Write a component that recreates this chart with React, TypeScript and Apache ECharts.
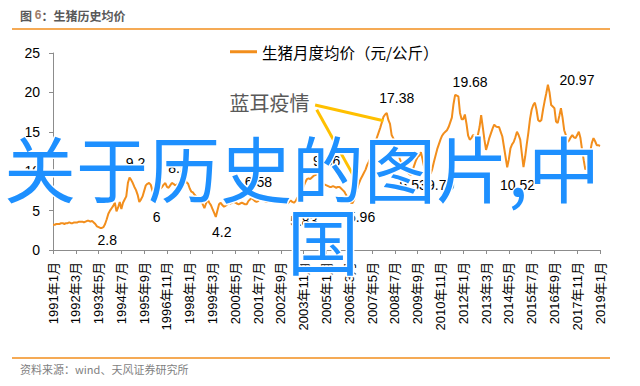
import React, { useEffect, useRef } from "react";
import * as echarts from "echarts";

// ---- data (monthly average live hog price, yuan/kg) ----
const years: number[] = [1991,1992,1993,1994,1995,1996,1997,1998,1999,2000,2001,2002,2003,2004,2005,2006,2007,2008,2009,2010,2011,2012,2013,2014,2015,2016,2017,2018,2019];
const p1991 = [3.2,3.2,3.3,3.3,3.3,3.4,3.4,3.3,3.4,3.4,3.5,3.4];
const p1992 = [3.4,3.5,3.5,3.5,3.6,3.6,3.6,3.5,3.6,3.7,3.7,3.6];
const p1993 = [3.7,3.5,3.3,3.0,2.9,2.8,2.8,2.9,3.3,3.9,4.6,5.0];
const p1994 = [5.3,5.6,6.0,4.9,5.4,6.1,5.2,6.0,6.4,6.8,8.5,9.2];
const p1995 = [8.9,8.5,8.0,7.6,7.0,6.1,6.4,6.8,7.5,8.2,8.4,8.5];
const p1996 = [8.3,7.6,6.9,6.0,6.9,7.5,7.8,8.0,8.3,8.5,8.0,7.9];
const p1997 = [8.2,8.5,8.4,8.2,8.3,8.4,8.6,8.9,8.8,8.9,8.6,8.4];
const p1998 = [7.8,7.4,7.3,7.0,6.8,6.6,6.3,6.1,5.8,5.3,5.9,6.4];
const p1999 = [6.0,5.7,5.2,4.7,4.2,5.0,5.8,6.0,5.7,5.5,5.6,5.8];
const p2000 = [6.0,5.9,6.0,6.1,6.0,5.9,5.8,5.9,6.0,5.9,5.8,5.8];
const p2001 = [6.2,6.4,6.6,6.4,6.2,6.1,6.2,6.4,6.58,6.4,6.2,6.1];
const p2002 = [6.1,6.2,6.3,6.3,6.2,6.1,6.0,6.1,6.1,6.0,5.9,5.83];
const p2003 = [5.9,6.1,6.3,6.1,6.0,6.2,6.6,6.9,7.2,7.6,8.1,8.6];
const p2004 = [9.0,9.1,9.0,9.2,9.4,9.5,9.66,9.4,9.0,8.7,8.4,8.3];
const p2005 = [8.2,8.1,8.0,8.0,8.1,8.0,7.9,8.0,8.0,7.8,7.6,7.4];
const p2006 = [7.0,6.7,6.3,6.0,5.96,6.4,7.2,7.9,8.5,9.0,9.4,9.8];
const p2007 = [10.2,10.8,11.2,11.7,12.4,13.0,13.7,14.3,14.9,15.5,16.2,16.9];
const p2008 = [17.2,17.38,16.5,16.0,14.6,14.2,13.7,13.0,12.3,11.6,11.0,10.6];
const p2009 = [10.2,10.0,9.8,9.6,9.53,10.2,10.8,11.4,11.8,12.0,12.4,11.5];
const p2010 = [10.5,10.0,9.8,9.75,9.7,10.3,11.2,12.0,12.8,13.4,14.0,14.5];
const p2011 = [14.8,15.0,15.2,15.6,16.2,16.8,18.5,19.68,19.6,19.5,17.4,16.6];
const p2012 = [16.6,17.2,16.0,14.5,14.0,14.2,14.6,14.4,14.3,14.6,15.6,17.1];
const p2013 = [15.6,14.0,12.7,13.4,14.2,14.8,15.4,15.9,15.7,15.6,15.6,15.0];
const p2014 = [14.4,13.1,11.8,10.5,11.5,12.9,13.4,13.7,14.3,15.0,14.6,14.0];
const p2015 = [12.2,10.52,11.8,13.4,14.9,16.6,17.8,18.4,18.7,17.8,16.5,16.3];
const p2016 = [16.5,17.8,18.9,19.9,20.97,20.0,18.4,18.2,18.0,16.3,16.1,17.0];
const p2017 = [18.0,16.8,15.2,14.6,13.7,13.9,14.3,14.6,14.3,14.2,14.6,15.0];
const p2018 = [14.2,12.7,11.4,10.2,10.6,11.4,12.5,13.6,14.2,13.8,13.3,13.3];
const p2019 = [13.2];

const prices: number[] = [
  ...p1991, ...p1992, ...p1993, ...p1994, ...p1995, ...p1996, ...p1997, ...p1998,
  ...p1999, ...p2000, ...p2001, ...p2002, ...p2003, ...p2004, ...p2005, ...p2006,
  ...p2007, ...p2008, ...p2009, ...p2010, ...p2011, ...p2012, ...p2013, ...p2014,
  ...p2015, ...p2016, ...p2017, ...p2018, ...p2019,
];

const months: string[] = [];
years.forEach((y) => {
  for (let m = 1; m <= 12; m++) months.push(`${y}年${m}月`);
});
const categories = months.slice(0, prices.length);

const yTicks = [0, 5, 10, 15, 20, 25];

// annotated points: month label, shown text
const annMonths = ["1993年6月","1994年12月","1996年4月","1997年10月","1999年5月","2001年9月","2002年12月","2004年7月","2006年5月","2008年2月","2009年5月","2010年5月","2011年8月","2015年2月","2016年5月"];
const annTexts = ["2.8","9.2","6","8.9","4.2","6.58","5.83","9.66","5.96","17.38","9.53","9.70","19.68","10.52","20.97"];
// label offsets (px) relative to the annotated point
const annOffsets: number[][] = [[7,12],[6,-15],[1,14],[-7,-12],[6,15],[-3,-16],[18,17],[10,-13],[9,14],[10,-15],[2,10],[10,11],[15,-13],[-6,18],[29,-5]];

const eventText = "蓝耳疫情";

const ORANGE = "#F28E1C";
const FONT = "'Liberation Sans', Arial, 'Noto Sans CJK SC', sans-serif";
const CJK = "'Noto Sans CJK SC', sans-serif";

export default function App() {
  const ref = useRef<HTMLDivElement>(null);
  useEffect(() => {
    const chart = echarts.init(ref.current!, null, { renderer: "svg" });
    const idx = (m: string) => categories.indexOf(m);
    const option: any = {
      animation: false,
      backgroundColor: "#fff",
      grid: { left: 53, right: 40, top: 53, bottom: 136 },
      legend: {
        left: 225,
        top: 39,
        icon: "rect",
        itemWidth: 27,
        itemHeight: 3,
        itemGap: 6,
        textStyle: { fontSize: 15.5, color: "#000", fontFamily: CJK },
        data: ["生猪月度均价（元/公斤）"],
      },
      xAxis: {
        type: "category",
        data: categories,
        boundaryGap: false,
        axisLine: { lineStyle: { color: "#8c8c8c", width: 1 } },
        axisTick: { show: true, interval: 13, length: 4, lineStyle: { color: "#8c8c8c" } },
        axisLabel: {
          interval: 13,
          rotate: 90,
          margin: 12,
          fontSize: 13,
          color: "#000",
          fontFamily: FONT,
        },
        splitLine: { show: false },
      },
      yAxis: {
        type: "value",
        min: yTicks[0],
        max: yTicks[yTicks.length - 1],
        interval: 5,
        axisLine: { show: true, lineStyle: { color: "#8c8c8c", width: 1 } },
        axisTick: { show: true, length: 4, lineStyle: { color: "#8c8c8c" } },
        axisLabel: { fontSize: 14, color: "#000", margin: 13, fontFamily: FONT },
        splitLine: { show: false },
      },
      series: [
        {
          name: "生猪月度均价（元/公斤）",
          type: "line",
          data: prices,
          showSymbol: false,
          symbol: "none",
          color: ORANGE,
          lineStyle: { color: ORANGE, width: 2 },
          markPoint: {
            silent: true,
            symbol: "circle",
            symbolSize: 1,
            itemStyle: { color: "rgba(0,0,0,0)" },
            data: [
              ...annMonths.map((m, k) => ({
                coord: [m, prices[idx(m)]],
                label: {
                  show: true,
                  position: "inside",
                  offset: annOffsets[k],
                  formatter: annTexts[k],
                  fontSize: 14,
                  color: "#000",
                  fontFamily: FONT,
                },
              })),
              {
                coord: ["2002年2月", 18.7],
                label: {
                  show: true,
                  position: "inside",
                  formatter: eventText,
                  fontSize: 20,
                  color: "#595959",
                  fontFamily: CJK,
                },
              },
            ],
          },
          markLine: {
            silent: true,
            symbol: ["none", "arrow"],
            symbolSize: [0, 15],
            label: { show: false },
            lineStyle: { color: "#FFC000", width: 3, type: "solid" },
            data: [
              [{ coord: ["2004年6月", 18.4] }, { coord: ["2007年12月", 16.4] }],
              [{ coord: ["2004年7月", 17.8] }, { coord: ["2006年7月", 8.9] }],
            ],
          },
        },
      ],
      graphic: [
        {
          type: "text",
          left: 20,
          top: 9,
          style: {
            text: "图 {n|6}：生猪历史均价",
            fontSize: 12,
            fontWeight: "bold",
            fill: "#595959",
            fontFamily: CJK,
            rich: { n: { fontSize: 12, fontWeight: "bold", fill: "#a07e6a", color: "#a07e6a", fontFamily: FONT } },
          },
        },
        { type: "line", shape: { x1: 12, y1: 29, x2: 610, y2: 29 }, style: { stroke: ORANGE, lineWidth: 1.5 } },
        { type: "line", shape: { x1: 12, y1: 358, x2: 610, y2: 358 }, style: { stroke: ORANGE, lineWidth: 1.5 } },
        {
          type: "text",
          left: 20,
          top: 363,
          style: { text: "资料来源：wind、天风证券研究所", fontSize: 11, fill: "#7f7f7f", fontFamily: CJK },
        },
        {
          type: "text",
          x: 4,
          y: 165,
          z: 100,
          style: {
            text: "关于历史的图片,中",
            fontSize: 72,
            fontFamily: CJK,
            fill: "#1E90FF",
            stroke: "#fff",
            lineWidth: 3,
            verticalAlign: "middle",
          },
        },
        {
          type: "text",
          x: 287,
          y: 237,
          z: 100,
          style: {
            text: "国",
            fontSize: 72,
            fontFamily: CJK,
            fill: "#1E90FF",
            stroke: "#fff",
            lineWidth: 3,
            verticalAlign: "middle",
          },
        },
      ],
    };
    chart.setOption(option);
    return () => chart.dispose();
  }, []);
  return (
    <div
      ref={ref}
      style={{ position: "fixed", left: 0, top: 0, width: 640, height: 386, background: "#fff" }}
    />
  );
}
